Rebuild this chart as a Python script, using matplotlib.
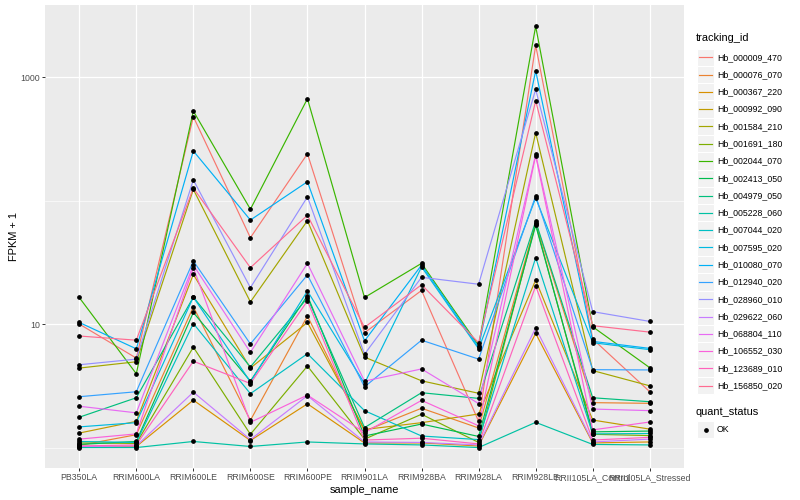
import numpy as np
import matplotlib
matplotlib.use('Agg')
import matplotlib.pyplot as plt
from matplotlib.patches import Rectangle
from matplotlib.lines import Line2D

plt.rcParams['font.family'] = ['Liberation Sans', 'DejaVu Sans']

samples = ['PB350LA', 'RRIM600LA', 'RRIM600LE', 'RRIM600SE', 'RRIM600PE', 'RRIM901LA',
           'RRIM928BA', 'RRIM928LA', 'RRIM928LE', 'RRII105LA_Control', 'RRII105LA_Stressed']

tracking_ids = ['Hb_000009_470', 'Hb_000076_070', 'Hb_000367_220', 'Hb_000992_090',
                'Hb_001584_210', 'Hb_001691_180', 'Hb_002044_070', 'Hb_002413_050',
                'Hb_004979_050', 'Hb_005228_060', 'Hb_007044_020', 'Hb_007595_020',
                'Hb_010080_070', 'Hb_012940_020', 'Hb_028960_010', 'Hb_029622_060',
                'Hb_068804_110', 'Hb_106552_030', 'Hb_123689_010', 'Hb_156850_020']

# ggplot hue palette, 20 levels
colors = ['#F8766D', '#EA8331', '#D89000', '#C09B00', '#A3A500', '#7CAE00', '#39B600',
          '#00BB4E', '#00BF7D', '#00C1A3', '#00BFC4', '#00BAE0', '#00B0F6', '#35A2FF',
          '#9590FF', '#C77CFF', '#E76BF3', '#FA62DB', '#FF62BC', '#FF6C91']

# FPKM + 1, one list per tracking_id, in sample order
fpkm_000009_470 = [10.0, 5.3, 477, 50, 239, 8.5, 18.7, 1.63, 1808, 7.57, 2.83]
fpkm_000076_070 = [1.04, 1.27, 13.8, 1.66, 11.6, 1.36, 2.08, 1.44, 66.1, 2.31, 2.28]
fpkm_000367_220 = [1.01, 1.02, 2.42, 1.14, 2.26, 1.09, 1.09, 1.03, 8.4, 1.09, 1.11]
fpkm_000992_090 = [1.31, 1.63, 25.2, 4.4, 10.3, 1.40, 1.59, 1.87, 22.7, 1.67, 1.41]
fpkm_001584_210 = [4.4, 4.95, 123, 15.1, 68.7, 5.4, 3.47, 2.75, 354, 4.2, 3.16]
fpkm_001691_180 = [1.09, 1.08, 6.5, 1.28, 4.57, 1.17, 1.86, 1.10, 65, 1.28, 1.25]
fpkm_002044_070 = [16.4, 3.96, 530, 85, 667, 16.4, 31, 6.7, 2576, 9.5, 4.43]
fpkm_002413_050 = [1.06, 1.12, 12.4, 3.45, 17, 1.24, 1.55, 1.23, 63, 1.34, 1.36]
fpkm_004979_050 = [1.76, 2.53, 16.5, 4.49, 16.3, 1.45, 2.78, 2.5, 67.9, 2.53, 2.35]
fpkm_005228_060 = [1.0, 1.0, 1.12, 1.02, 1.11, 1.07, 1.05, 1.0, 1.6, 1.06, 1.05]
fpkm_007044_020 = [1.12, 1.10, 10.1, 2.73, 5.75, 1.99, 1.24, 1.16, 34.4, 1.29, 1.30]
fpkm_007595_020 = [1.47, 1.59, 16.5, 3.4, 18.5, 3.3, 29, 6.3, 105, 7.06, 6.2]
fpkm_010080_070 = [10.3, 6.3, 252, 69.5, 142, 7.3, 30, 6.5, 1124, 7.24, 6.35]
fpkm_012940_020 = [2.58, 2.83, 32.4, 6.9, 25, 3.1, 7.4, 5.2, 109, 4.27, 4.25]
fpkm_028960_010 = [4.68, 5.2, 147, 19.7, 107, 5.7, 23.9, 21, 794, 12.6, 10.5]
fpkm_029622_060 = [1.02, 1.03, 2.81, 1.16, 2.63, 1.11, 1.10, 1.05, 9.3, 1.11, 1.17]
fpkm_068804_110 = [2.16, 1.91, 30, 5.9, 31, 3.45, 4.33, 2.27, 236, 2.05, 1.99]
fpkm_106552_030 = [1.17, 1.29, 28.6, 1.6, 2.66, 1.32, 2.41, 1.5, 231, 1.39, 1.61]
fpkm_123689_010 = [1.03, 1.05, 5.0, 3.3, 15.4, 1.15, 1.19, 1.07, 20.3, 1.15, 1.21]
fpkm_156850_020 = [8.0, 7.4, 126, 28.6, 76, 9.4, 20.8, 7.06, 643, 9.7, 8.6]

series = [fpkm_000009_470, fpkm_000076_070, fpkm_000367_220, fpkm_000992_090,
          fpkm_001584_210, fpkm_001691_180, fpkm_002044_070, fpkm_002413_050,
          fpkm_004979_050, fpkm_005228_060, fpkm_007044_020, fpkm_007595_020,
          fpkm_010080_070, fpkm_012940_020, fpkm_028960_010, fpkm_029622_060,
          fpkm_068804_110, fpkm_106552_030, fpkm_123689_010, fpkm_156850_020]

W, H = 800, 500
fig = plt.figure(figsize=(8, 5), dpi=100)
ax = fig.add_axes([45 / W, 1 - 468.3 / H, (684 - 45) / W, (468.3 - 5) / H])
ax.set_facecolor('#EBEBEB')
for s in ax.spines.values():
    s.set_visible(False)

x = np.arange(len(samples))
for vals, c in zip(series, colors):
    ax.plot(x, vals, color=c, lw=0.85, zorder=3)
for vals in series:
    ax.plot(x, vals, 'o', color='black', ms=2.4, zorder=4)

ax.set_yscale('log')
ax.set_ylim(10 ** -0.168, 10 ** 3.583)
ax.set_xlim(-0.6, len(samples) - 0.4)
ax.set_yticks([10, 1000])
ax.set_yticklabels(['10', '1000'])
ax.set_yticks([1, 100], minor=True)
ax.yaxis.set_minor_formatter(matplotlib.ticker.NullFormatter())
ax.set_xticks(x)
ax.set_xticklabels(samples)
ax.tick_params(axis='both', which='major', length=2, width=0.7, color='#333333',
               labelsize=6.3, labelcolor='#4D4D4D', pad=1.5)
ax.tick_params(axis='y', which='minor', length=0)
ax.grid(True, which='major', color='white', lw=0.9, zorder=0)
ax.grid(True, which='minor', axis='y', color='white', lw=0.45, zorder=0)
ax.set_axisbelow(True)

ax.set_xlabel('sample_name', fontsize=7.9, labelpad=2)
ax.set_ylabel('FPKM + 1', fontsize=7.9, labelpad=1)


def fx(px):
    return px / W


def fy(py):
    return 1 - py / H


# legend: tracking_id
fig.text(fx(696), fy(38), 'tracking_id', fontsize=7.9, va='center', ha='left')
key = 17.28
y0 = 57.3
for i, (tid, c) in enumerate(zip(tracking_ids, colors)):
    yc = y0 + i * key
    fig.add_artist(Rectangle((fx(697), fy(yc + key / 2)), key / W, key / H,
                             facecolor='#F2F2F2', edgecolor='white', lw=0.8,
                             transform=fig.transFigure))
    fig.add_artist(Line2D([fx(699), fx(712)], [fy(yc), fy(yc)], color=c, lw=0.85,
                          transform=fig.transFigure))
    fig.text(fx(717), fy(yc), tid, fontsize=6.3, va='center', ha='left')

# legend: quant_status
fig.text(fx(696), fy(412), 'quant_status', fontsize=7.9, va='center', ha='left')
yc = 429.5
fig.add_artist(Rectangle((fx(697), fy(yc + key / 2)), key / W, key / H,
                         facecolor='#F2F2F2', edgecolor='white', lw=0.8,
                         transform=fig.transFigure))
fig.add_artist(Line2D([fx(705.5)], [fy(yc)], marker='o', color='black', ms=2.4,
                      transform=fig.transFigure))
fig.text(fx(717), fy(yc), 'OK', fontsize=6.3, va='center', ha='left')

fig.savefig('out.png', dpi=100)
